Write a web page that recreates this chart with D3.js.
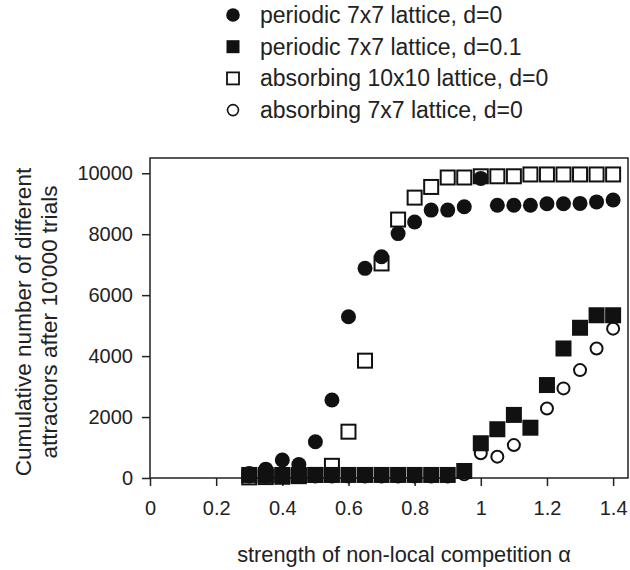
<!DOCTYPE html>
<html>
<head>
<meta charset="utf-8">
<script src="https://cdn.jsdelivr.net/npm/d3@7"></script>
<style>
  body { margin: 0; background: #fff; }
  #graphicContainer { width: 630px; height: 570px; }
  text { font-family: "Liberation Sans", Arial, sans-serif; fill: #222; }
</style>
</head>
<body>
<div id="graphicContainer"></div>
<script>
// alpha values along x
var alpha = [0.3, 0.35, 0.4, 0.45, 0.5, 0.55, 0.6, 0.65, 0.7, 0.75, 0.8, 0.85, 0.9, 0.95, 1.0, 1.05, 1.1, 1.15, 1.2, 1.25, 1.3, 1.35, 1.4]

var periodic7d0 = [150, 290, 590, 440, 1190, 2560, 5290, 6880, 7260, 8020, 8400, 8790, 8790, 8900, 9830, 8950, 8950, 8950, 9000, 9000, 9010, 9060, 9120]
var periodic7d01 = [100, 100, 100, 100, 100, 100, 100, 100, 100, 100, 100, 100, 100, 230, 1140, 1600, 2070, 1650, 3050, 4250, 4930, 5340, 5340]
var absorbing10d0 = [20, 30, 40, 60, 100, 400, 1520, 3850, 7040, 8480, 9200, 9550, 9860, 9860, 9900, 9900, 9900, 9960, 9960, 9960, 9960, 9960, 9960]
var absorbing7d0 = [50, 50, 50, 50, 50, 50, 50, 50, 50, 50, 50, 50, 50, 120, 810, 700, 1080, 1650, 2280, 2940, 3540, 4250, 4900]

var seriesNames = ["periodic 7x7 lattice, d=0", "periodic 7x7 lattice, d=0.1", "absorbing 10x10 lattice, d=0", "absorbing 7x7 lattice, d=0"]

var xTicks = [0, 0.2, 0.4, 0.6, 0.8, 1, 1.2, 1.4]
var yTicks = [0, 2000, 4000, 6000, 8000, 10000]

var width = 630
var height = 570
var margin = { top: 158, right: 2, bottom: 92, left: 150 }

var svg = d3.select("#graphicContainer").append("svg")
  .attr("width", width)
  .attr("height", height)

var x = d3.scaleLinear().domain([0, 1.445]).range([margin.left, width - margin.right])
var y = d3.scaleLinear().domain([0, 10500]).range([height - margin.bottom, margin.top])

var ink = "#111"

// frame
svg.append("rect")
  .attr("x", x(0))
  .attr("y", y(10500))
  .attr("width", x(1.445) - x(0))
  .attr("height", y(0) - y(10500))
  .attr("fill", "none")
  .attr("stroke", "#222")
  .attr("stroke-width", 1.5)

var xAxis = d3.axisBottom(x).tickValues(xTicks).tickSize(8).tickSizeOuter(0).tickPadding(15)
  .tickFormat(d => String(+d.toFixed(2)))
var yAxis = d3.axisLeft(y).tickValues(yTicks).tickSize(8).tickSizeOuter(0).tickPadding(9)
  .tickFormat(d => String(d))

var gx = svg.append("g")
  .attr("transform", "translate(0," + y(0) + ")")
  .call(xAxis)
var gy = svg.append("g")
  .attr("transform", "translate(" + x(0) + ",0)")
  .call(yAxis)

;[gx, gy].forEach(function (g) {
  g.select(".domain").remove()
  g.selectAll(".tick line").attr("stroke", "#222").attr("stroke-width", 1.5)
  g.selectAll(".tick text").attr("font-size", 20).attr("fill", "#222")
    .style("font-family", '"Liberation Sans", Arial, sans-serif')
})

// axis titles
svg.append("text")
  .attr("x", 404)
  .attr("y", 562)
  .attr("text-anchor", "middle")
  .attr("font-size", 21.8)
  .text("strength of non-local competition α")

var yTitle = svg.append("text")
  .attr("transform", "translate(0,322) rotate(-90)")
  .attr("text-anchor", "middle")
  .attr("font-size", 22.6)
yTitle.append("tspan").attr("x", 0).attr("y", 31).text("Cumulative number of different")
yTitle.append("tspan").attr("x", 0).attr("y", 57).text("attractors after 10'000 trials")

var pts = function (vals) {
  return alpha.map(function (a, i) { return { a: a, v: vals[i] } })
}

var plot = svg.append("g")

// open squares (absorbing 10x10)
plot.selectAll(".openSq")
  .data(pts(absorbing10d0))
  .enter().append("rect")
  .attr("class", "openSq")
  .attr("x", d => x(d.a) - 7)
  .attr("y", d => y(d.v) - 7)
  .attr("width", 14)
  .attr("height", 14)
  .attr("fill", "#fff")
  .attr("stroke", ink)
  .attr("stroke-width", 2)

// open circles (absorbing 7x7)
plot.selectAll(".openCirc")
  .data(pts(absorbing7d0))
  .enter().append("circle")
  .attr("class", "openCirc")
  .attr("cx", d => x(d.a))
  .attr("cy", d => y(d.v))
  .attr("r", 6)
  .attr("fill", "#fff")
  .attr("stroke", ink)
  .attr("stroke-width", 2)

// filled squares (periodic 7x7, d=0.1)
plot.selectAll(".fillSq")
  .data(pts(periodic7d01))
  .enter().append("rect")
  .attr("class", "fillSq")
  .attr("x", d => x(d.a) - 8)
  .attr("y", d => y(d.v) - 8)
  .attr("width", 16)
  .attr("height", 16)
  .attr("fill", ink)

// filled circles (periodic 7x7, d=0)
plot.selectAll(".fillCirc")
  .data(pts(periodic7d0))
  .enter().append("circle")
  .attr("class", "fillCirc")
  .attr("cx", d => x(d.a))
  .attr("cy", d => y(d.v))
  .attr("r", 7.5)
  .attr("fill", ink)

// legend
var legend = svg.append("g").attr("transform", "translate(233,15)")
var rowGap = 31.7

seriesNames.forEach(function (name, i) {
  var row = legend.append("g").attr("transform", "translate(0," + (i * rowGap) + ")")
  if (i == 0) {
    row.append("circle").attr("r", 6.8).attr("fill", ink)
  } else if (i == 1) {
    row.append("rect").attr("x", -6.5).attr("y", -6.5).attr("width", 13).attr("height", 13).attr("fill", ink)
  } else if (i == 2) {
    row.append("rect").attr("x", -6).attr("y", -6).attr("width", 12).attr("height", 12)
      .attr("fill", "#fff").attr("stroke", ink).attr("stroke-width", 1.8)
  } else {
    row.append("circle").attr("r", 5.5).attr("fill", "#fff").attr("stroke", ink).attr("stroke-width", 1.6)
  }
  row.append("text")
    .attr("x", 27)
    .attr("y", 0)
    .attr("dy", "0.35em")
    .attr("font-size", 23)
    .text(name)
})
</script>
</body>
</html>
